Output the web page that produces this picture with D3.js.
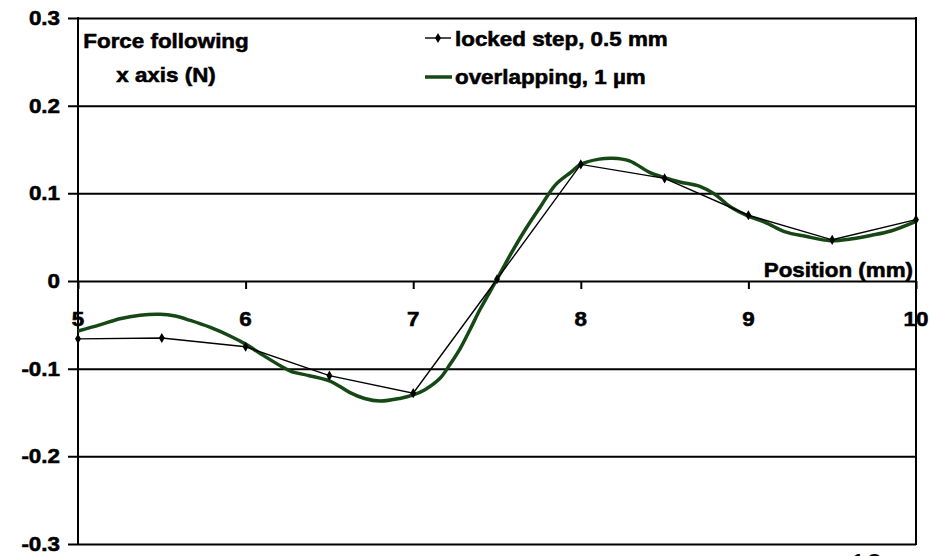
<!DOCTYPE html>
<html>
<head>
<meta charset="utf-8">
<script src="https://cdn.jsdelivr.net/npm/d3@7"></script>
<style>
  html, body { margin: 0; padding: 0; background: #fff; }
  svg { display: block; }
  text { font-family: "Liberation Sans", Arial, sans-serif; font-weight: bold; fill: #000; }
  text.heavy { stroke: #000; stroke-width: 0.55px; paint-order: stroke; }
</style>
</head>
<body>
<svg id="chart" width="931" height="556"></svg>
<script>
// Position along the sample (mm)
const lockedPos = [5, 5.5, 6, 6.5, 7, 7.5, 8, 8.5, 9, 9.5, 10];
// Force (N) measured with a locked 0.5 mm step
const lockedForce = [-0.066, -0.065, -0.075, -0.108, -0.128, 0.002, 0.133, 0.117, 0.075, 0.047, 0.070];

// Overlapping scan, 1 µm step
const overlapPos = [5.00, 5.13, 5.25, 5.37, 5.49, 5.58, 5.67, 5.79, 5.91, 6.00,
  6.09, 6.21, 6.27, 6.38, 6.50, 6.56, 6.62, 6.71, 6.80, 6.92,
  7.00, 7.07, 7.16, 7.22, 7.28, 7.34, 7.40, 7.50, 7.58, 7.67,
  7.76, 7.85, 7.94, 8.00, 8.11, 8.19, 8.29, 8.41, 8.50, 8.59,
  8.71, 8.80, 8.89, 9.00, 9.10, 9.22, 9.34, 9.49, 9.61, 9.73,
  9.85, 10.00];
const overlapForce = [-0.057, -0.050, -0.043, -0.039, -0.038, -0.040, -0.045, -0.053, -0.063, -0.072,
  -0.083, -0.097, -0.103, -0.108, -0.114, -0.120, -0.127, -0.134, -0.137, -0.134,
  -0.130, -0.124, -0.111, -0.095, -0.077, -0.055, -0.032, 0.002, 0.030, 0.059,
  0.085, 0.110, 0.124, 0.133, 0.139, 0.140, 0.137, 0.124, 0.118, 0.113,
  0.108, 0.099, 0.085, 0.074, 0.067, 0.056, 0.051, 0.046, 0.048, 0.052,
  0.057, 0.068];

const xTicks = [5, 6, 7, 8, 9, 10];
const xTickLabels = ["5", "6", "7", "8", "9", "10"];
const yTicks = [0.3, 0.2, 0.1, 0, -0.1, -0.2, -0.3];
const yTickLabels = ["0.3", "0.2", "0.1", "0", "-0.1", "-0.2", "-0.3"];

const seriesNames = ["locked step, 0.5 mm", "overlapping, 1 µm"];
const yTitle = ["Force following", "x axis (N)"];
const xTitle = "Position (mm)";

// Layout
const plotLeft = 78, plotRight = 916, plotTop = 18, plotBottom = 544;
const stretch = 1.12;   // horizontal widening of all lettering
const fs = 20;
const green = "#164816";

const svg = d3.select("#chart");
const x = d3.scaleLinear().domain([5, 10]).range([plotLeft, plotRight]);
const y = d3.scaleLinear().domain([-0.3, 0.3]).range([plotBottom, plotTop]);

function label(g, tx, ty, str, anchor, size, weight) {
  return g.append("text")
    .attr("class", weight === "normal" ? null : "heavy")
    .attr("transform", `translate(${tx},${ty}) scale(${stretch},1)`)
    .attr("text-anchor", anchor || "start")
    .style("font-size", (size || fs) + "px")
    .style("font-weight", weight || "bold")
    .text(str);
}

// Horizontal gridlines with short ticks past the left axis
const yAxis = svg.append("g")
  .attr("transform", `translate(${plotLeft},0)`)
  .call(d3.axisLeft(y).tickValues(yTicks).tickSize(-(plotRight - plotLeft)).tickFormat(""));
yAxis.select(".domain").remove();
yAxis.selectAll(".tick line")
  .attr("x1", -10).attr("x2", plotRight - plotLeft)
  .attr("stroke", "#000").attr("stroke-width", 2);
yAxis.selectAll(".tick text").remove();
yTicks.forEach((v, i) => label(svg, 60, y(v) + 7, yTickLabels[i], "end"));

// Frame: left axis and right border
svg.append("line").attr("x1", plotLeft).attr("x2", plotLeft).attr("y1", plotTop - 1).attr("y2", plotBottom + 1)
  .attr("stroke", "#000").attr("stroke-width", 2);
svg.append("line").attr("x1", plotRight).attr("x2", plotRight).attr("y1", plotTop - 1).attr("y2", plotBottom + 1)
  .attr("stroke", "#000").attr("stroke-width", 2);

// X axis running through zero
const xAxis = svg.append("g")
  .attr("transform", `translate(0,${y(0)})`)
  .call(d3.axisBottom(x).tickValues(xTicks).tickSize(8).tickFormat(""));
xAxis.select(".domain").remove();
xAxis.selectAll(".tick line").attr("stroke", "#000").attr("stroke-width", 2);
xTicks.forEach((v, i) => label(svg, x(v), y(0) + 44.5, xTickLabels[i], "middle"));

// Overlapping scan curve
const overlap = overlapPos.map((p, i) => [p, overlapForce[i]]);
svg.append("path")
  .datum(overlap)
  .attr("fill", "none")
  .attr("stroke", green)
  .attr("stroke-width", 3.5)
  .attr("stroke-linejoin", "round")
  .attr("d", d3.line().x(d => x(d[0])).y(d => y(d[1])).curve(d3.curveCatmullRom.alpha(0.5)));

// Locked step series with diamond markers
const locked = lockedPos.map((p, i) => [p, lockedForce[i]]);
svg.append("path")
  .datum(locked)
  .attr("fill", "none")
  .attr("stroke", "#000")
  .attr("stroke-width", 1.4)
  .attr("d", d3.line().x(d => x(d[0])).y(d => y(d[1])));
const diamond = d3.symbol().type(d3.symbolDiamond).size(30);
svg.append("g").selectAll("path")
  .data(locked)
  .join("path")
  .attr("transform", d => `translate(${x(d[0])},${y(d[1])})`)
  .attr("d", diamond)
  .attr("fill", "#000");

// Axis titles
label(svg, 166, 48, yTitle[0], "middle");
label(svg, 166, 82, yTitle[1], "middle");
label(svg, 913, 277, xTitle, "end");

// Legend
const lg = svg.append("g");
lg.append("line").attr("x1", 425).attr("x2", 451).attr("y1", 38).attr("y2", 38)
  .attr("stroke", "#000").attr("stroke-width", 1.4);
lg.append("path").attr("transform", "translate(438,38)").attr("d", diamond).attr("fill", "#000");
label(lg, 455, 46, seriesNames[0], "start");
lg.append("line").attr("x1", 425).attr("x2", 452).attr("y1", 77).attr("y2", 77)
  .attr("stroke", green).attr("stroke-width", 3.5);
label(lg, 455, 84, seriesNames[1], "start");

// Page number along the bottom edge
label(svg, 850, 572, "10", "start", 26, "normal");
</script>
</body>
</html>
